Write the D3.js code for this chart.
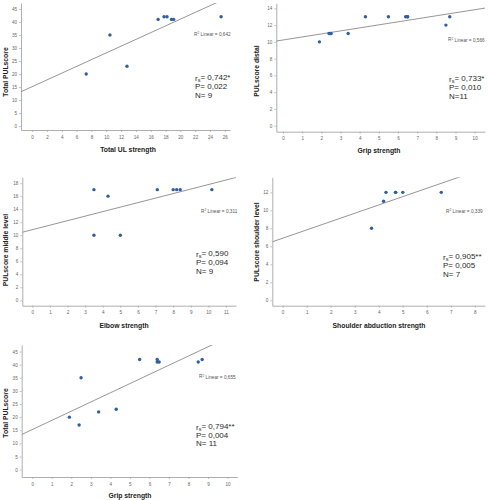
<!DOCTYPE html>
<html><head><meta charset="utf-8">
<script src="https://cdn.jsdelivr.net/npm/d3@7"></script>
<style>body{margin:0;background:#fff}svg{display:block}</style>
</head><body>
<svg id="c" width="488" height="500"></svg>
<script>
// ---------- DATA ----------
const totalULStrength = [7.3, 10.5, 12.8, 17, 17.8, 18.2, 18.8, 19.1, 25.5];
const totalPULscoreA  = [20, 35, 23, 41, 42, 42, 41, 41, 42];

const gripStrengthA   = [1.9, 2.4, 2.5, 2.5, 3.4, 4.3, 5.5, 6.4, 6.5, 6.5, 8.5, 8.7];
const pulDistal       = [10, 11, 11, 11, 11, 13, 13, 13, 13, 13, 12, 13];

const elbowStrength   = [3.5, 3.5, 4.3, 5, 7.1, 8, 8.2, 8.4, 10.2];
const pulMiddle       = [17, 10, 16, 10, 17, 17, 17, 17, 17];

const shoulderAbd     = [3.7, 4.2, 4.3, 4.7, 4.7, 5, 6.6];
const pulShoulder     = [8, 11, 12, 12, 12, 12, 12];

const gripStrengthB   = [1.9, 2.4, 2.5, 3.4, 4.3, 5.5, 6.4, 6.4, 6.5, 8.5, 8.7];
const totalPULscoreB  = [20, 17, 35, 22, 23, 42, 42, 41, 41, 41, 42];

const ticksUL    = [0,2,4,6,8,10,12,14,16,18,20,22,24,26];
const ticksGrip  = [0,1,2,3,4,5,6,7,8,9,10];
const ticksElbow = [0,1,2,3,4,5,6,7,8,9,10,11];
const ticksShoul = [0,1,2,3,4,5,6,7,8];
const ticks45    = [0,5,10,15,20,25,30,35,40,45];
const ticks14    = [0,2,4,6,8,10,12,14];
const ticks18    = [0,2,4,6,8,10,12,14,16,18];
const ticks12    = [0,2,4,6,8,10,12];

const xTitles = ["Total UL strength", "Grip strength", "Elbow strength", "Shoulder abduction strength", "Grip strength"];
const yTitles = ["Total PULscore", "PULscore distal", "PULscore middle level", "PULscore shoulder level", "Total PULscore"];
const r2Labels = ["0,642", "0,566", "0,311", "0,339", "0,655"];
const rsLabels = ["0,742*", "0,733*", "0,590", "0,905**", "0,794**"];
const pLabels  = ["0,022", "0,010", "0,094", "0,005", "0,004"];
const nLabels  = ["N= 9", "N=11", "N= 9", "N= 7", "N= 11"];

// ---------- LAYOUT ----------
const layouts = [
  {rect:[21,3,230,130],        xd:[-1.5,26.7],  yd:[-1.5,47.3], r2:[194,34],  st:[195,81],  xt:[128,150], yt:[6,72]},
  {rect:[276.3,3.3,485,131.7], xd:[-0.35,10.54],yd:[-0.72,14.6],r2:[448,39.5],st:[449,82],  xt:[379,150.5], yt:[257,71]},
  {rect:[22.3,177.3,236,305.7],xd:[-0.57,11.57],yd:[-0.83,18.9],r2:[201,211], st:[196,257], xt:[124,326], yt:[6,250]},
  {rect:[272.3,177.3,485,305.7],xd:[-0.43,8.42],yd:[-0.6,13.67],r2:[446,211], st:[443,260], xt:[379,326], yt:[257,242]},
  {rect:[21.7,345,237.3,477],  xd:[-0.54,10.5], yd:[-2.8,47.5], r2:[199,376.5],st:[196,429.5],xt:[130,496], yt:[6,413]}
];

const series = [
  {x: totalULStrength, y: totalPULscoreA, xt: ticksUL,    yt: ticks45},
  {x: gripStrengthA,   y: pulDistal,      xt: ticksGrip,  yt: ticks14},
  {x: elbowStrength,   y: pulMiddle,      xt: ticksElbow, yt: ticks18},
  {x: shoulderAbd,     y: pulShoulder,    xt: ticksShoul, yt: ticks12},
  {x: gripStrengthB,   y: totalPULscoreB, xt: ticksGrip,  yt: ticks45}
];

const FONT = "'Liberation Sans', Arial, sans-serif";
const svg = d3.select("#c");

function fit(xs, ys) {
  const mx = d3.mean(xs), my = d3.mean(ys);
  let sxy = 0, sxx = 0;
  xs.forEach((v, i) => { sxy += (v - mx) * (ys[i] - my); sxx += (v - mx) ** 2; });
  const b = sxy / sxx;
  return {b, a: my - b * mx};
}

series.forEach((s, i) => {
  const L = layouts[i];
  const [x0, y0, x1, y1] = L.rect;
  const x = d3.scaleLinear().domain(L.xd).range([x0, x1]);
  const y = d3.scaleLinear().domain(L.yd).range([y1, y0]);
  const g = svg.append("g");

  g.append("clipPath").attr("id", "clip" + i)
    .append("rect").attr("x", x0).attr("y", y0).attr("width", x1 - x0).attr("height", y1 - y0);

  // axes
  const xa = g.append("g").attr("transform", `translate(0,${y1})`)
    .call(d3.axisBottom(x).tickValues(s.xt).tickSize(2).tickSizeOuter(0).tickPadding(2.5));
  const ya = g.append("g").attr("transform", `translate(${x0},0)`)
    .call(d3.axisLeft(y).tickValues(s.yt).tickSize(2).tickSizeOuter(0).tickPadding(2));
  [xa, ya].forEach(a => {
    a.select(".domain").attr("stroke", "#9a9a9a").attr("stroke-width", 0.8);
    a.selectAll(".tick line").attr("stroke", "#9a9a9a").attr("stroke-width", 0.6);
    a.selectAll(".tick text").attr("fill", "#666").style("font-size", "4.6px").style("font-family", FONT);
  });
  xa.selectAll(".tick text").attr("dy", "0.9em");

  // regression line
  const f = fit(s.x, s.y);
  g.append("line").attr("clip-path", `url(#clip${i})`)
    .attr("x1", x(L.xd[0])).attr("y1", y(f.a + f.b * L.xd[0]))
    .attr("x2", x(L.xd[1])).attr("y2", y(f.a + f.b * L.xd[1]))
    .attr("stroke", "#8a8a8a").attr("stroke-width", 0.9);

  // points
  g.selectAll("circle.pt").data(s.x.map((v, k) => [v, s.y[k]])).join("circle")
    .attr("class", "pt").attr("cx", d => x(d[0])).attr("cy", d => y(d[1])).attr("r", 1.7)
    .attr("fill", "#2f5f9e");

  // R2 label
  const r2 = g.append("text").attr("x", L.r2[0]).attr("y", L.r2[1]).attr("dy", "0.35em")
    .style("font-size", "4.7px").style("font-family", FONT).attr("fill", "#555");
  r2.append("tspan").text("R");
  r2.append("tspan").attr("dy", "-0.4em").style("font-size", "3.3px").text("2");
  r2.append("tspan").attr("dy", "0.4em").text(" Linear = " + r2Labels[i]);

  // stats
  const st = g.append("text").attr("x", L.st[0]).attr("y", L.st[1])
    .style("font-size", "8px").style("font-family", FONT).attr("fill", "#2a2a2a");
  const l1 = st.append("tspan").attr("x", L.st[0]);
  l1.append("tspan").text("r");
  l1.append("tspan").attr("dy", "0.25em").style("font-size", "5.5px").text("s");
  l1.append("tspan").attr("dy", "-0.25em").text("= " + rsLabels[i]);
  st.append("tspan").attr("x", L.st[0]).attr("dy", "1.08em").text("P= " + pLabels[i]);
  st.append("tspan").attr("x", L.st[0]).attr("dy", "1.08em").text(nLabels[i]);

  // axis titles
  g.append("text").attr("x", L.xt[0]).attr("y", L.xt[1]).attr("text-anchor", "middle")
    .attr("dy", "0.35em").style("font-size", "6.8px").style("font-weight", "bold")
    .style("font-family", FONT).attr("fill", "#222").text(xTitles[i]);
  g.append("text").attr("transform", `translate(${L.yt[0]},${L.yt[1]}) rotate(-90)`)
    .attr("text-anchor", "middle").attr("dy", "0.35em").style("font-size", "6.8px")
    .style("font-weight", "bold").style("font-family", FONT).attr("fill", "#222").text(yTitles[i]);
});
</script>
</body></html>
